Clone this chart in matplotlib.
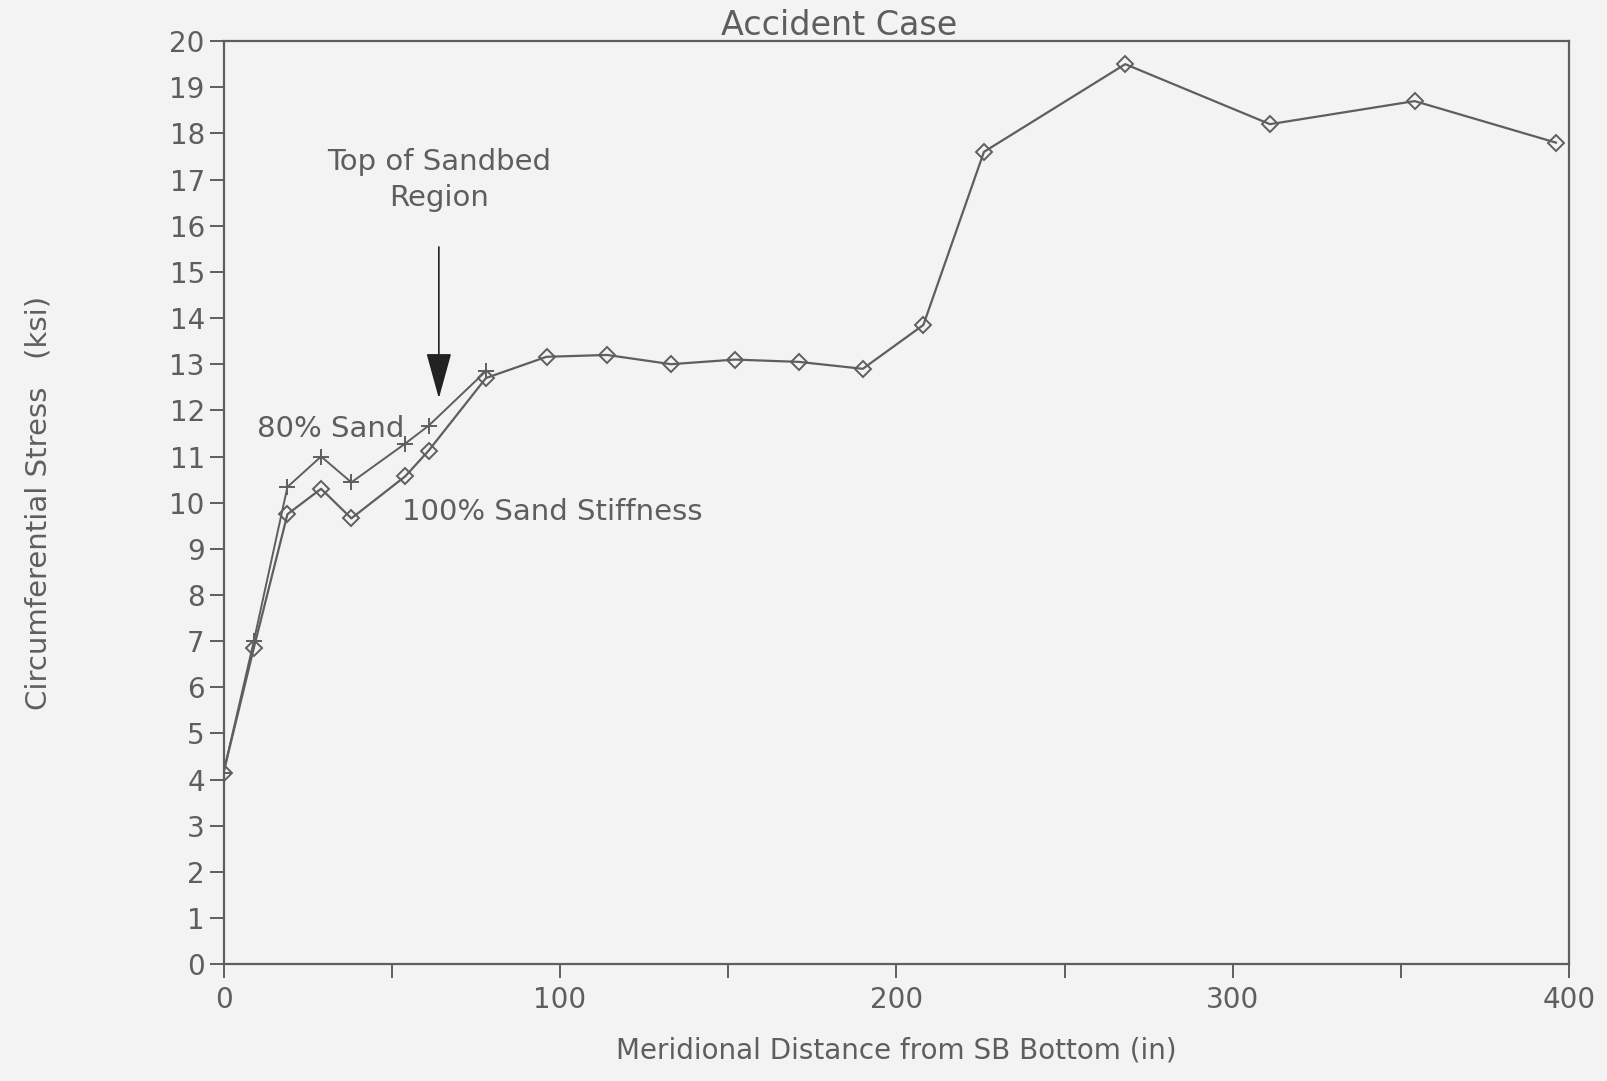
import matplotlib
matplotlib.use("Agg")
import matplotlib.pyplot as plt

# meridional distance (in) of the nodes
dist = [0, 9, 19, 29, 38, 54, 61, 78, 96, 114, 133, 152, 171, 190, 208, 226, 268, 311, 354, 396]
# circumferential stress (ksi), 100% sand stiffness
s100 = [4.15, 6.85, 9.75, 10.3, 9.66, 10.57, 11.13, 12.7, 13.16, 13.2, 13.0, 13.1, 13.05, 12.9,
        13.85, 17.6, 19.5, 18.2, 18.7, 17.8]
# 80% sand stiffness (differs only in the sandbed region)
dist80 = [0, 9, 19, 29, 38, 54, 61, 78]
s80 = [4.15, 7.0, 10.34, 11.0, 10.44, 11.28, 11.67, 12.85]

grey = "#5e5e5e"
plt.rcParams['font.family'] = ['DejaVu Sans']

fig = plt.figure(figsize=(16.08, 10.81), dpi=100, facecolor='#f3f3f3')
ax = fig.add_axes([0.139, 0.108, 0.837, 0.854])
ax.set_facecolor('#f3f3f3')

ax.plot(dist, s100, color=grey, lw=1.6, marker='D', ms=8, mfc='none', mec=grey, mew=1.4)
ax.plot(dist80, s80, color=grey, lw=1.4, marker='+', ms=11, mec=grey, mew=1.4)

ax.set_xlim(0, 400)
ax.set_ylim(0, 20)
ax.set_xticks([0, 100, 200, 300, 400])
ax.set_xticks([50, 150, 250, 350], minor=True)
ax.set_yticks(range(0, 21))
for s in ax.spines.values():
    s.set_color(grey)
    s.set_linewidth(1.6)
ax.tick_params(axis='both', colors=grey, labelsize=20, direction='out', length=10, width=1.4)
ax.tick_params(axis='x', which='minor', colors=grey, direction='out', length=10, width=1.4)
ax.tick_params(axis='x', pad=6)

ax.set_xlabel("Meridional Distance from SB Bottom (in)", fontsize=20, color=grey, labelpad=16)
ax.set_ylabel("Circumferential Stress   (ksi)", fontsize=21, color=grey, labelpad=84)

ax.annotate("", xy=(64, 12.2), xytext=(64, 15.6),
            arrowprops=dict(arrowstyle="-|>,head_length=1.45,head_width=0.4", mutation_scale=20,
                            color='#222222', lw=1.2))
ax.text(64, 16.3, "Top of Sandbed\nRegion", ha='center', va='bottom', fontsize=21, color=grey,
        linespacing=1.35)
ax.text(10, 11.6, "80% Sand", ha='left', va='center', fontsize=21, color=grey)
ax.text(53, 9.8, "100% Sand Stiffness", ha='left', va='center', fontsize=21, color=grey)

fig.text(0.522, 0.968, "Accident Case", ha='center', va='baseline', fontsize=24, color=grey)

fig.savefig("out.png", dpi=100, facecolor=fig.get_facecolor())
